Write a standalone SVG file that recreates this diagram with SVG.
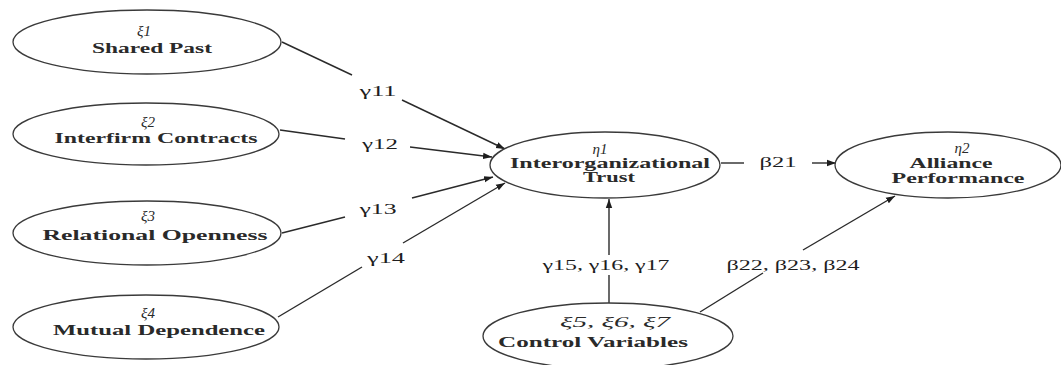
<svg xmlns="http://www.w3.org/2000/svg" width="1061" height="365" viewBox="0 0 1061 365">
<style>
.n{fill:#fff;stroke:#3a3a3a;stroke-width:1.3}
.t{font-family:"Liberation Serif","Times New Roman",serif;font-size:15px;font-weight:bold;fill:#2a2a2a;text-anchor:middle}
.s{font-family:"Liberation Serif","Times New Roman",serif;font-size:14px;font-weight:bold;fill:#2a2a2a;text-anchor:middle}
.g{font-family:"Liberation Serif","Times New Roman",serif;font-size:15px;font-style:italic;fill:#2a2a2a;text-anchor:middle}
.l{font-family:"Liberation Serif","Times New Roman",serif;font-size:15px;fill:#1e1e1e;text-anchor:middle}
.c{stroke:#2a2a2a;stroke-width:1.4;fill:none}
</style>
<defs>
<marker id="ah" markerUnits="userSpaceOnUse" markerWidth="10" markerHeight="8" refX="9" refY="4" orient="auto">
<path d="M0,0.8 L9,4 L0,7.2 Z" fill="#1e1e1e"/>
</marker>
</defs>
<rect width="1061" height="365" fill="#fff"/>
<g id="connectors">
<line class="c" x1="282" y1="42" x2="352" y2="75"/>
<line class="c" x1="402" y1="100" x2="505" y2="149" marker-end="url(#ah)"/>
<line class="c" x1="280" y1="130" x2="345" y2="139"/>
<line class="c" x1="410" y1="147" x2="492" y2="157" marker-end="url(#ah)"/>
<line class="c" x1="282" y1="233" x2="345" y2="217"/>
<line class="c" x1="412" y1="198" x2="493" y2="177" marker-end="url(#ah)"/>
<line class="c" x1="278" y1="317" x2="362" y2="267"/>
<line class="c" x1="403" y1="243" x2="505" y2="183" marker-end="url(#ah)"/>
<line class="c" x1="609" y1="303" x2="609" y2="275"/>
<line class="c" x1="609" y1="255" x2="609" y2="199" marker-end="url(#ah)"/>
<line class="c" x1="721" y1="163" x2="744" y2="163"/>
<line class="c" x1="812" y1="163" x2="836" y2="163" marker-end="url(#ah)"/>
<line class="c" x1="700" y1="312" x2="763" y2="273"/>
<line class="c" x1="803" y1="250" x2="895" y2="196" marker-end="url(#ah)"/>
<text class="l" x="378" y="96" textLength="37" lengthAdjust="spacingAndGlyphs">γ11</text>
<text class="l" x="380" y="149" textLength="36" lengthAdjust="spacingAndGlyphs">γ12</text>
<text class="l" x="378" y="214" textLength="37" lengthAdjust="spacingAndGlyphs">γ13</text>
<text class="l" x="386" y="263" textLength="38" lengthAdjust="spacingAndGlyphs">γ14</text>
<text class="l" x="606" y="270" textLength="127" lengthAdjust="spacingAndGlyphs">γ15, γ16, γ17</text>
<text class="l" x="778" y="167" textLength="37" lengthAdjust="spacingAndGlyphs">β21</text>
<text class="l" x="793" y="270" textLength="133" lengthAdjust="spacingAndGlyphs">β22, β23, β24</text>
</g>
<g id="xi1">
<ellipse class="n" cx="147" cy="42" rx="134" ry="32"/>
<text class="g" x="144" y="36">ξ1</text>
<text class="t" x="152" y="53" textLength="120" lengthAdjust="spacingAndGlyphs">Shared Past</text>
</g>
<g id="xi2">
<ellipse class="n" cx="146" cy="134" rx="133" ry="31"/>
<text class="g" x="148" y="127">ξ2</text>
<text class="t" x="156" y="143" textLength="203" lengthAdjust="spacingAndGlyphs">Interfirm Contracts</text>
</g>
<g id="xi3">
<ellipse class="n" cx="147" cy="233" rx="134" ry="32"/>
<text class="g" x="148" y="221">ξ3</text>
<text class="t" x="155" y="240" textLength="225" lengthAdjust="spacingAndGlyphs">Relational Openness</text>
</g>
<g id="xi4">
<ellipse class="n" cx="146" cy="327" rx="133" ry="32"/>
<text class="g" x="148" y="318">ξ4</text>
<text class="t" x="159" y="335" textLength="212" lengthAdjust="spacingAndGlyphs">Mutual Dependence</text>
</g>
<g id="eta1">
<ellipse class="n" cx="605" cy="165" rx="115" ry="33"/>
<text class="g" x="600" y="154">η1</text>
<text class="s" x="610" y="168" textLength="200" lengthAdjust="spacingAndGlyphs">Interorganizational</text>
<text class="s" x="609" y="182" textLength="52" lengthAdjust="spacingAndGlyphs">Trust</text>
</g>
<g id="eta2">
<ellipse class="n" cx="948" cy="165" rx="113" ry="33"/>
<text class="g" x="962" y="153">η2</text>
<text class="s" x="951" y="168" textLength="83" lengthAdjust="spacingAndGlyphs">Alliance</text>
<text class="s" x="958" y="183" textLength="133" lengthAdjust="spacingAndGlyphs">Performance</text>
</g>
<g id="controls">
<ellipse class="n" cx="608" cy="336" rx="125" ry="33"/>
<text class="g" x="615" y="327" textLength="110" lengthAdjust="spacingAndGlyphs">ξ5, ξ6, ξ7</text>
<text class="t" x="593" y="347" textLength="190" lengthAdjust="spacingAndGlyphs">Control Variables</text>
</g>
</svg>
